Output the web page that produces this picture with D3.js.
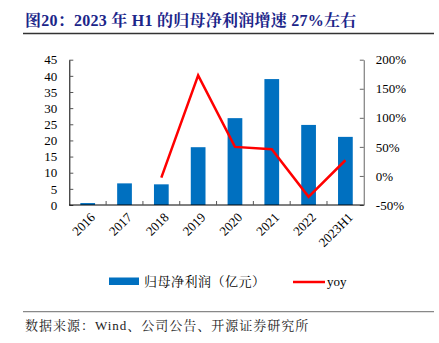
<!DOCTYPE html>
<html><head><meta charset="utf-8">
<script src="https://cdn.jsdelivr.net/npm/d3@7"></script>
<style>
body{margin:0;background:#fff;}
svg{display:block;}
</style></head>
<body>
<svg id="c" width="439" height="343"></svg>
<script>
const categories = ["2016","2017","2018","2019","2020","2021","2022","2023H1"];
const profit = [0.6, 6.7, 6.4, 17.9, 26.9, 39.0, 24.8, 21.1];
const yoy = [null, null, -3, 173, 50, 46, -36, 27];
const leftTicks = [0,5,10,15,20,25,30,35,40,45];
const rightTicks = [-50,0,50,100,150,200];

const serif = "'Liberation Serif','Times New Roman','Noto Serif CJK SC','Noto Sans CJK SC',serif";
const svg = d3.select("#c");
const L = 69.3, R = 363.8, T = 59.7, B = 205;

const x = d3.scaleBand().domain(categories).range([L, R]).paddingInner(0.6).paddingOuter(0.3);
const yL = d3.scaleLinear().domain([0,45]).range([B, T]);
const yR = d3.scaleLinear().domain([-50,200]).range([B, T]);

// Title
svg.append("text").attr("x", 25).attr("y", 26)
  .attr("font-family", serif).attr("font-weight", "bold").attr("font-size", 16)
  .attr("letter-spacing", 0.25)
  .attr("fill", "#1b2589")
  .text("图20：2023 年 H1 的归母净利润增速 27%左右");
svg.append("line").attr("x1", 23).attr("x2", 434).attr("y1", 33.5).attr("y2", 33.5)
  .attr("stroke", "#333").attr("stroke-width", 1.5);

// Bars
svg.append("g").selectAll("rect").data(categories).join("rect")
  .attr("x", d => x(d)).attr("width", x.bandwidth())
  .attr("y", (d,i) => yL(profit[i])).attr("height", (d,i) => B - yL(profit[i]))
  .attr("fill", "#0070c0");

// Left axis
const gl = svg.append("g").attr("transform", `translate(${L},0)`)
  .call(d3.axisLeft(yL).tickValues(leftTicks).tickSize(-4).tickPadding(12).tickSizeOuter(0));
gl.select(".domain").attr("stroke", "#000");
gl.selectAll(".tick line").attr("stroke", "#555");
gl.selectAll("text").attr("font-family", serif).attr("font-size", 13).attr("fill", "#000");

// Right axis
const gr = svg.append("g").attr("transform", `translate(${R},0)`)
  .call(d3.axisRight(yR).tickValues(rightTicks).tickSize(-4).tickPadding(12).tickSizeOuter(0)
    .tickFormat(d => d + "%"));
gr.select(".domain").attr("stroke", "#888").attr("stroke-width", 1.3);
gr.selectAll(".tick line").attr("stroke", "#666");
gr.selectAll("text").attr("font-family", serif).attr("font-size", 13).attr("fill", "#000");

// Bottom axis
const step = x.step();
const bounds = categories.slice(1).map(c => x(c) - step * x.paddingInner() / 2);
svg.append("line").attr("x1", L).attr("x2", R).attr("y1", B).attr("y2", B).attr("stroke", "#000").attr("stroke-width", 1);
svg.append("g").selectAll("line").data(bounds).join("line")
  .attr("x1", d => d).attr("x2", d => d).attr("y1", B).attr("y2", B - 4).attr("stroke", "#555");
svg.append("g").selectAll("text").data(categories).join("text")
  .attr("transform", d => `translate(${x(d) + x.bandwidth()/2 + 5},${B + 10}) rotate(-45)`)
  .attr("text-anchor", "end").attr("dy", "0.35em")
  .attr("font-family", serif).attr("font-size", 13).attr("fill", "#000")
  .text(d => d);

// yoy line
const pts = categories.map((c,i) => ({c, v: yoy[i]})).filter(d => d.v !== null);
svg.append("path").datum(pts)
  .attr("d", d3.line().x(d => x(d.c) + x.bandwidth()/2).y(d => yR(d.v)))
  .attr("fill", "none").attr("stroke", "#ff0000").attr("stroke-width", 2.5);

// Legend
svg.append("rect").attr("x", 109).attr("y", 277.5).attr("width", 30).attr("height", 7.5).attr("fill", "#0070c0");
svg.append("text").attr("x", 144).attr("y", 286).attr("font-family", serif).attr("font-size", 13).attr("fill", "#000")
  .attr("letter-spacing", 0.5)
  .text("归母净利润（亿元）");
svg.append("line").attr("x1", 293).attr("x2", 325).attr("y1", 282).attr("y2", 282).attr("stroke", "#ff0000").attr("stroke-width", 2.5);
svg.append("text").attr("x", 327).attr("y", 286).attr("font-family", serif).attr("font-size", 13).attr("fill", "#000")
  .text("yoy");

// Footer
svg.append("line").attr("x1", 23).attr("x2", 434).attr("y1", 311.7).attr("y2", 311.7)
  .attr("stroke", "#888").attr("stroke-width", 1.3);
svg.append("text").attr("x", 25).attr("y", 330).attr("font-family", serif).attr("font-size", 13).attr("fill", "#222")
  .attr("letter-spacing", 1)
  .text("数据来源：Wind、公司公告、开源证券研究所");
</script>
</body></html>
